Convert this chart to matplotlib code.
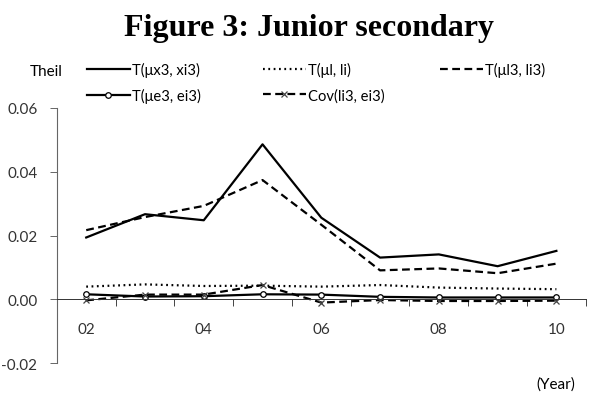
import numpy as np
import matplotlib.pyplot as plt

years = ["02", "03", "04", "05", "06", "07", "08", "09", "10"]
t_x3 = [0.0194, 0.0267, 0.0248, 0.0486, 0.0256, 0.0131, 0.0141, 0.0104, 0.0152]
t_l = [0.0040, 0.0047, 0.0042, 0.0043, 0.0040, 0.0045, 0.0037, 0.0034, 0.0032]
t_l3 = [0.0217, 0.0258, 0.0293, 0.0374, 0.0234, 0.0091, 0.0097, 0.0082, 0.0112]
t_e3 = [0.0016, 0.0009, 0.0010, 0.0016, 0.0015, 0.0008, 0.0006, 0.0006, 0.0006]
cov_le3 = [-0.0003, 0.0015, 0.0015, 0.0045, -0.0010, -0.0002, -0.0005, -0.0005, -0.0004]
ytick_vals = [-0.02, 0.0, 0.02, 0.04, 0.06]

plt.rcParams['font.family'] = ['Lato', 'DejaVu Sans']
fs = 11

fig = plt.figure(figsize=(5.89, 4.02), dpi=100)
ax = fig.add_axes([0.0965, 0.094, 0.898, 0.635])
x = np.arange(len(years))

l1, = ax.plot(x, t_x3, color='black', lw=1.6, label='T(μx3, xi3)')
l2, = ax.plot(x, t_l, color='black', lw=1.6, ls=(0, (0.8, 1.6)), label='T(μl, li)')
l3, = ax.plot(x, t_l3, color='black', lw=1.6, ls=(0, (3.5, 2)), label='T(μl3, li3)')
l4, = ax.plot(x, t_e3, color='black', lw=1.6, marker='o', ms=4, mfc='white',
              mec='black', mew=0.9, label='T(μe3, ei3)')
l5, = ax.plot(x, cov_le3, color='black', lw=1.6, ls=(0, (3.5, 2)), marker='x', ms=4,
              mec='#444444', mew=0.9, label='Cov(li3, ei3)')

ax.set_xlim(-0.5, len(years) - 0.5)
ax.set_ylim(-0.02, 0.06)
ax.set_yticks(ytick_vals)
ax.set_yticklabels([f"{v:.2f}" for v in ytick_vals])

ax.set_xticks(x[::2])
ax.set_xticklabels(years[::2])
ax.set_xticks(np.arange(-0.5, len(years)), minor=True)
ax.tick_params(axis='x', which='major', length=0, pad=16, labelsize=fs, colors='#333333')
ax.tick_params(axis='x', which='minor', length=5, width=0.7, color='#444444', direction='out')
ax.tick_params(axis='y', length=5, width=0.7, color='#666666', pad=9, labelsize=fs,
               labelcolor='#333333')

for s in ['top', 'right']:
    ax.spines[s].set_visible(False)
ax.spines['left'].set_color('#666666')
ax.spines['left'].set_linewidth(0.8)
ax.spines['bottom'].set_position(('data', 0))
ax.spines['bottom'].set_linestyle((0, (1, 1)))
ax.spines['bottom'].set_linewidth(0.7)
ax.spines['bottom'].set_color('#333333')

# legend laid out as three separate columns
legend_cols = [([l1, l4], 87), ([l2, l5], 263), ([l3], 440)]
for handles, x0 in legend_cols:
    fig.legend(handles=handles, loc='upper left', bbox_to_anchor=(x0 / 589, 1 - 63 / 402),
               frameon=False, handlelength=2.9, handletextpad=0.15, borderpad=0,
               borderaxespad=0, labelspacing=0.75, fontsize=10.6)

fig.text(0.525, 0.93, "Figure 3: Junior secondary", ha='center', va='center',
         fontsize=23, fontweight='bold', family='Liberation Serif')
fig.text(0.05, 0.822, "Theil", ha='left', va='center', fontsize=fs)
fig.text(0.977, 0.043, "(Year)", ha='right', va='center', fontsize=fs)

fig.savefig("out.png", dpi=100)
